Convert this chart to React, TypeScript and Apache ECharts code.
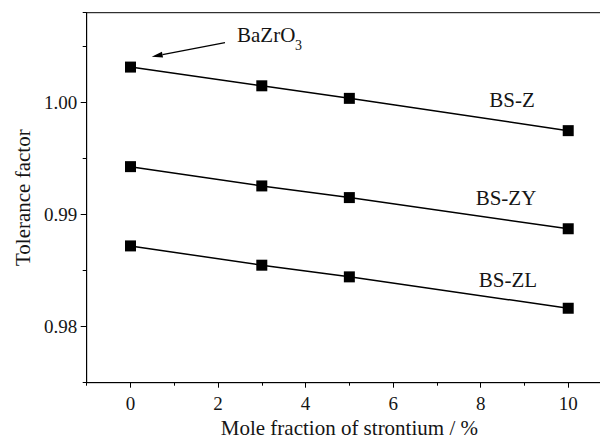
import React, { useEffect, useRef } from "react";
import * as echarts from "echarts";

const xValues = [0, 3, 5, 10];
const bsZ = [1.00315, 1.00148, 1.00036, 0.99748];
const bsZY = [0.99427, 0.99255, 0.99151, 0.98873];
const bsZL = [0.9872, 0.98548, 0.98444, 0.98164];
const seriesNames = ["BS-Z", "BS-ZY", "BS-ZL"];

const FONT = "Liberation Serif";
const TXT = "#151515";

function pairs(ys: number[]) {
  return xValues.map((x, i) => [x, ys[i]]);
}

export default function App() {
  const ref = useRef<HTMLDivElement>(null);
  useEffect(() => {
    if (!ref.current) return;
    const chart = echarts.init(ref.current, undefined, { renderer: "svg" });
    const axisLine = { show: true, onZero: false, lineStyle: { color: "#000", width: 1 } };
    const noLine = { show: false, onZero: false };
    const mkSeries = (name: string, ys: number[]) => ({
      name,
      type: "line",
      data: pairs(ys),
      xAxisIndex: 0,
      yAxisIndex: 0,
      symbol: "rect",
      symbolSize: 11,
      itemStyle: { color: "#000" },
      lineStyle: { color: "#000", width: 1.5 },
      silent: true,
    });
    chart.setOption({
      animation: false,
      backgroundColor: "#fff",
      textStyle: { fontFamily: FONT },
      grid: {
        left: 86.7,
        top: 12.7,
        right: -12,
        bottom: 56.3,
        containLabel: false,
        outerBoundsMode: "none",
        show: true,
        borderColor: "#000",
        borderWidth: 1,
        backgroundColor: "transparent",
      },
      xAxis: [
        {
          type: "value",
          min: -1,
          max: 11,
          splitNumber: 6,
          name: "Mole fraction of strontium / %",
          nameLocation: "middle",
          nameGap: 32,
          nameTextStyle: { fontFamily: FONT, fontSize: 21, color: TXT },
          axisLine,
          axisTick: { show: true, length: 5, lineStyle: { color: "#000" } },
          axisLabel: {
            fontFamily: FONT,
            fontSize: 19,
            color: TXT,
            margin: 11,
            showMinLabel: false,
            showMaxLabel: false,
          },
          splitLine: { show: false },
        },
        {
          type: "value",
          min: -1,
          max: 11,
          interval: 1,
          position: "bottom",
          axisLine: noLine,
          axisTick: { show: true, length: 3, lineStyle: { color: "#000" } },
          axisLabel: { show: false },
          splitLine: { show: false },
        },
      ],
      yAxis: [
        {
          type: "value",
          min: 0.975,
          max: 1.008,
          splitNumber: 3,
          name: "Tolerance factor",
          nameLocation: "middle",
          nameGap: 52,
          nameTextStyle: { fontFamily: FONT, fontSize: 21, color: TXT },
          axisLine,
          axisTick: { show: true, length: 6, lineStyle: { color: "#000" } },
          axisLabel: {
            fontFamily: FONT,
            fontSize: 19,
            color: TXT,
            margin: 9.5,
            showMinLabel: false,
            showMaxLabel: false,
            formatter: (v: number) => v.toFixed(2),
          },
          splitLine: { show: false },
        },
        {
          type: "value",
          min: 0.975,
          max: 1.008,
          interval: 0.005,
          position: "left",
          axisLine: noLine,
          axisTick: { show: true, length: 4, lineStyle: { color: "#000" } },
          axisLabel: { show: false },
          splitLine: { show: false },
        },
      ],
      series: [
        mkSeries(seriesNames[0], bsZ),
        mkSeries(seriesNames[1], bsZY),
        mkSeries(seriesNames[2], bsZL),
      ],
      graphic: [
        {
          type: "text",
          x: 512,
          y: 100,
          style: { text: seriesNames[0], fontFamily: FONT, fontSize: 21, fill: TXT, textAlign: "center", textVerticalAlign: "middle" },
        },
        {
          type: "text",
          x: 506,
          y: 198,
          style: { text: seriesNames[1], fontFamily: FONT, fontSize: 21, fill: TXT, textAlign: "center", textVerticalAlign: "middle" },
        },
        {
          type: "text",
          x: 508,
          y: 280,
          style: { text: seriesNames[2], fontFamily: FONT, fontSize: 21, fill: TXT, textAlign: "center", textVerticalAlign: "middle" },
        },
        {
          type: "text",
          x: 237,
          y: 35,
          style: { text: "BaZrO", fontFamily: FONT, fontSize: 21, fill: TXT, textAlign: "left", textVerticalAlign: "middle" },
        },
        {
          type: "text",
          x: 295,
          y: 45,
          style: { text: "3", fontFamily: FONT, fontSize: 14, fill: TXT, textAlign: "left", textVerticalAlign: "middle" },
        },
        {
          type: "line",
          shape: { x1: 225, y1: 42.7, x2: 162.5, y2: 54.6 },
          style: { stroke: "#000", lineWidth: 1.3 },
        },
        {
          type: "polygon",
          shape: { points: [[151.7, 56.7], [163.06, 57.55], [161.94, 51.65]] },
          style: { fill: "#000" },
        },
      ],
    });
    return () => chart.dispose();
  }, []);
  return (
    <div
      ref={ref}
      style={{ position: "fixed", left: 0, top: 0, width: 600, height: 439, background: "#fff" }}
    />
  );
}
